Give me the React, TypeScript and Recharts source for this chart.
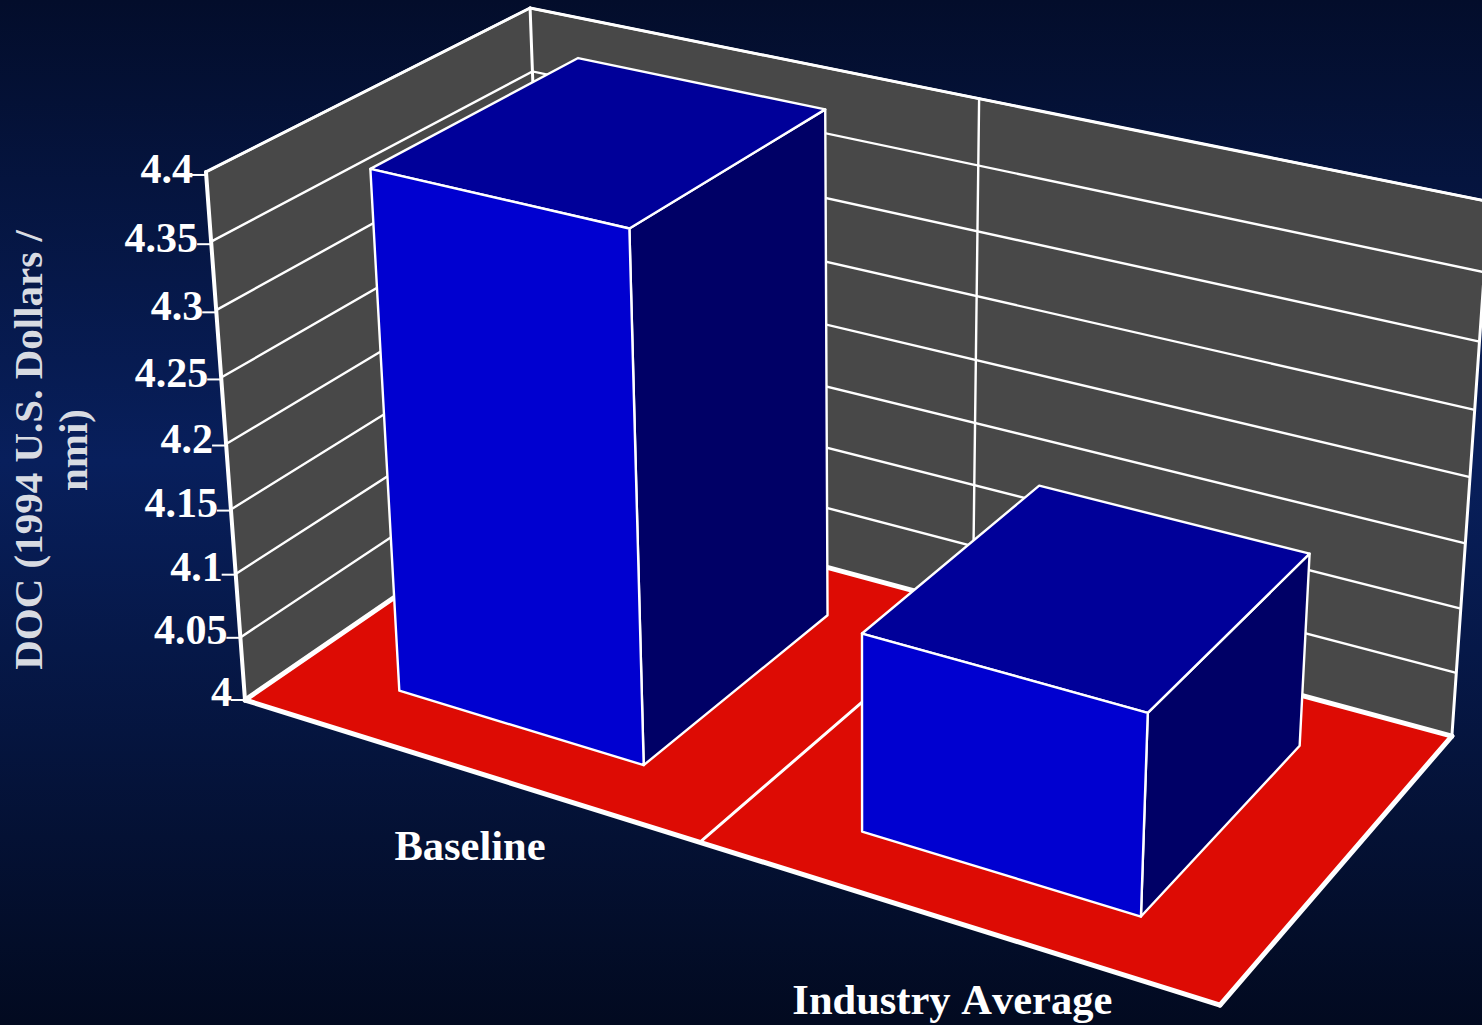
import React from 'react';
import { BarChart, Bar, XAxis, YAxis, CartesianGrid, Customized } from 'recharts';

const CATEGORIES = ['Baseline', 'Industry Average'];
const DOC_VALUES = [4.397, 4.149];
const Y_TICKS = [4, 4.05, 4.1, 4.15, 4.2, 4.25, 4.3, 4.35, 4.4];
const Y_TITLE_LINES = ['DOC (1994 U.S. Dollars /', 'nmi)'];

const WIDTH = 1482;
const HEIGHT = 1025;
// The axes take one pixel each, which leaves this much for the plot.
const AXIS_SIZE = 1;
const PLOT_W = WIDTH - AXIS_SIZE;
const PLOT_H = HEIGHT - AXIS_SIZE;
const SERIF = '"Liberation Serif", serif';

const COLORS = {
  wall: '#484848',
  floor: '#dd0b04',
  front: '#0000d0',
  top: '#000099',
  side: '#000066',
  line: '#ffffff',
  title: '#d8dbe2',
};

// Homogeneous camera columns: origin, then width, height and depth directions.
const CAM = {
  o: [245, 700, 1],
  u: [821.3, 178.4, -0.126],
  v: [-51.2, -538.2, -0.0591],
  w: [363.8, -153.4, 0.111],
};

// Depth span of each column on the floor, as a share of the room's depth.
const BAR_DEPTH = [0.172, 0.828];

const project = (u: number, v: number, w: number) => {
  const h = [0, 1, 2].map((i) => CAM.o[i] + u * CAM.u[i] + v * CAM.v[i] + w * CAM.w[i]);
  return [h[0] / h[2], h[1] / h[2]];
};

const plotU = (x: number) => (x - AXIS_SIZE) / PLOT_W;
const plotV = (y: number) => (PLOT_H - y) / PLOT_H;

const toPoints = (pts: number[][]) => pts.map((p) => `${p[0].toFixed(2)},${p[1].toFixed(2)}`).join(' ');

const Edge = ({ from, to, width }: { from: number[]; to: number[]; width: number }) => {
  const a = project(from[0], from[1], from[2]);
  const b = project(to[0], to[1], to[2]);
  return <line x1={a[0]} y1={a[1]} x2={b[0]} y2={b[1]} stroke={COLORS.line} strokeWidth={width} strokeLinecap="round" />;
};

// Back wall, side wall and floor of the 3D room.
const Room = () => {
  const dividers = CATEGORIES.slice(1).map((_, i) => (i + 1) / CATEGORIES.length);
  const face = (corners: number[][], fill: string) => (
    <polygon points={toPoints(corners.map((c) => project(c[0], c[1], c[2])))} fill={fill} />
  );
  return (
    <g>
      {face([[0, 0, 0], [0, 1, 0], [0, 1, 1], [0, 0, 1]], COLORS.wall)}
      {face([[0, 0, 1], [0, 1, 1], [1, 1, 1], [1, 0, 1]], COLORS.wall)}
      {face([[0, 0, 0], [1, 0, 0], [1, 0, 1], [0, 0, 1]], COLORS.floor)}
      <Edge from={[0, 1, 0]} to={[0, 1, 1]} width={3} />
      <Edge from={[0, 1, 1]} to={[1, 1, 1]} width={3} />
      <Edge from={[0, 1, 1]} to={[0, 0, 1]} width={3} />
      <Edge from={[1, 1, 1]} to={[1, 0, 1]} width={3} />
      {dividers.map((d) => (
        <g key={d}>
          <Edge from={[d, 0, 1]} to={[d, 1, 1]} width={2.4} />
          <Edge from={[d, 0, 0]} to={[d, 0, 1]} width={3} />
        </g>
      ))}
    </g>
  );
};

// Floor and wall outlines that sit over the walls and floor.
const RoomEdges = () => (
  <g>
    <Edge from={[0, 0, 0]} to={[0, 1, 0]} width={4} />
    <Edge from={[0, 0, 0]} to={[0, 0, 1]} width={5} />
    <Edge from={[0, 0, 1]} to={[1, 0, 1]} width={5} />
    <Edge from={[0, 0, 0]} to={[1, 0, 0]} width={5} />
    <Edge from={[1, 0, 0]} to={[1, 0, 1]} width={5} />
  </g>
);

// Each value line runs along the side wall and then across the back wall.
const GridLine = (props: any) => {
  const v = plotV(props.y1);
  const pts = [project(0, v, 0), project(0, v, 1), project(1, v, 1)];
  return <polyline key={props.key} points={toPoints(pts)} fill="none" stroke={COLORS.line} strokeWidth={2.4} />;
};

const Column = (props: any) => {
  const { x, y, width, height } = props;
  const u0 = plotU(x);
  const u1 = plotU(x + width);
  const vTop = plotV(y);
  const vBase = plotV(y + height);
  const [w0, w1] = BAR_DEPTH;
  const stroke = { stroke: COLORS.line, strokeWidth: 2.4, strokeLinejoin: 'round' as const };
  return (
    <g>
      <polygon
        points={toPoints([project(u1, vBase, w0), project(u1, vBase, w1), project(u1, vTop, w1), project(u1, vTop, w0)])}
        fill={COLORS.side}
        {...stroke}
      />
      <polygon
        points={toPoints([project(u0, vTop, w0), project(u1, vTop, w0), project(u1, vTop, w1), project(u0, vTop, w1)])}
        fill={COLORS.top}
        {...stroke}
      />
      <polygon
        points={toPoints([project(u0, vBase, w0), project(u1, vBase, w0), project(u1, vTop, w0), project(u0, vTop, w0)])}
        fill={COLORS.front}
        {...stroke}
      />
    </g>
  );
};

const CategoryTick = (props: any) => {
  const u = plotU(props.x);
  const p = project(u, 0, 0);
  return (
    <text
      x={p[0] + 6.75 - 7 * u}
      y={p[1] + 90 + 4 * u}
      textAnchor="middle"
      fontFamily={SERIF}
      fontWeight="bold"
      fontSize={42.5}
      fill={COLORS.line}
      style={{ fontKerning: 'none' }}
    >
      {props.payload.value}
    </text>
  );
};

const ValueTick = (props: any) => {
  const v = plotV(props.y);
  const p = project(0, v, 0);
  const tickY = p[1] + 3 * v;
  return (
    <g>
      <line x1={p[0] - 14} y1={tickY} x2={p[0]} y2={tickY} stroke={COLORS.line} strokeWidth={2} />
      <text
        x={p[0] - 13}
        y={tickY + 6 + 2 * v}
        textAnchor="end"
        fontFamily={SERIF}
        fontWeight="bold"
        fontSize={42}
        fill={COLORS.line}
        style={{ fontKerning: 'none' }}
      >
        {props.payload.value}
      </text>
    </g>
  );
};

const TITLE_BASELINES = [42, 87];

const ValueTitle = () => (
  <g>
    {Y_TITLE_LINES.map((line, i) => (
      <text
        key={line}
        transform={`translate(${TITLE_BASELINES[i]},450) rotate(-90)`}
        textAnchor="middle"
        fontFamily={SERIF}
        fontWeight="bold"
        fontSize={41}
        fill={COLORS.title}
        style={{ fontKerning: 'none' }}
      >
        {line}
      </text>
    ))}
  </g>
);

const rows = CATEGORIES.map((name, i) => ({ name, doc: DOC_VALUES[i] }));

export default function App() {
  return (
    <div
      style={{
        position: 'absolute',
        left: 0,
        top: 0,
        width: WIDTH,
        height: HEIGHT,
        overflow: 'hidden',
        background: 'linear-gradient(180deg, #030d2b 0%, #081f5c 45%, #020a20 100%)',
      }}
    >
      <BarChart width={WIDTH} height={HEIGHT} data={rows} margin={{ top: 0, right: 0, bottom: 0, left: 0 }} barCategoryGap="22.8%">
        <Customized component={Room} />
        <Customized component={RoomEdges} />
        <CartesianGrid horizontal={GridLine} vertical={false} zIndex={1} />
        <XAxis dataKey="name" height={AXIS_SIZE} axisLine={false} tickLine={false} interval={0} tick={CategoryTick} />
        <YAxis
          width={AXIS_SIZE}
          domain={[4, 4.4]}
          ticks={Y_TICKS}
          allowDataOverflow
          axisLine={false}
          tickLine={false}
          interval={0}
          tick={ValueTick}
          label={<ValueTitle />}
        />
        <Bar dataKey="doc" isAnimationActive={false} shape={Column} />
      </BarChart>
    </div>
  );
}
